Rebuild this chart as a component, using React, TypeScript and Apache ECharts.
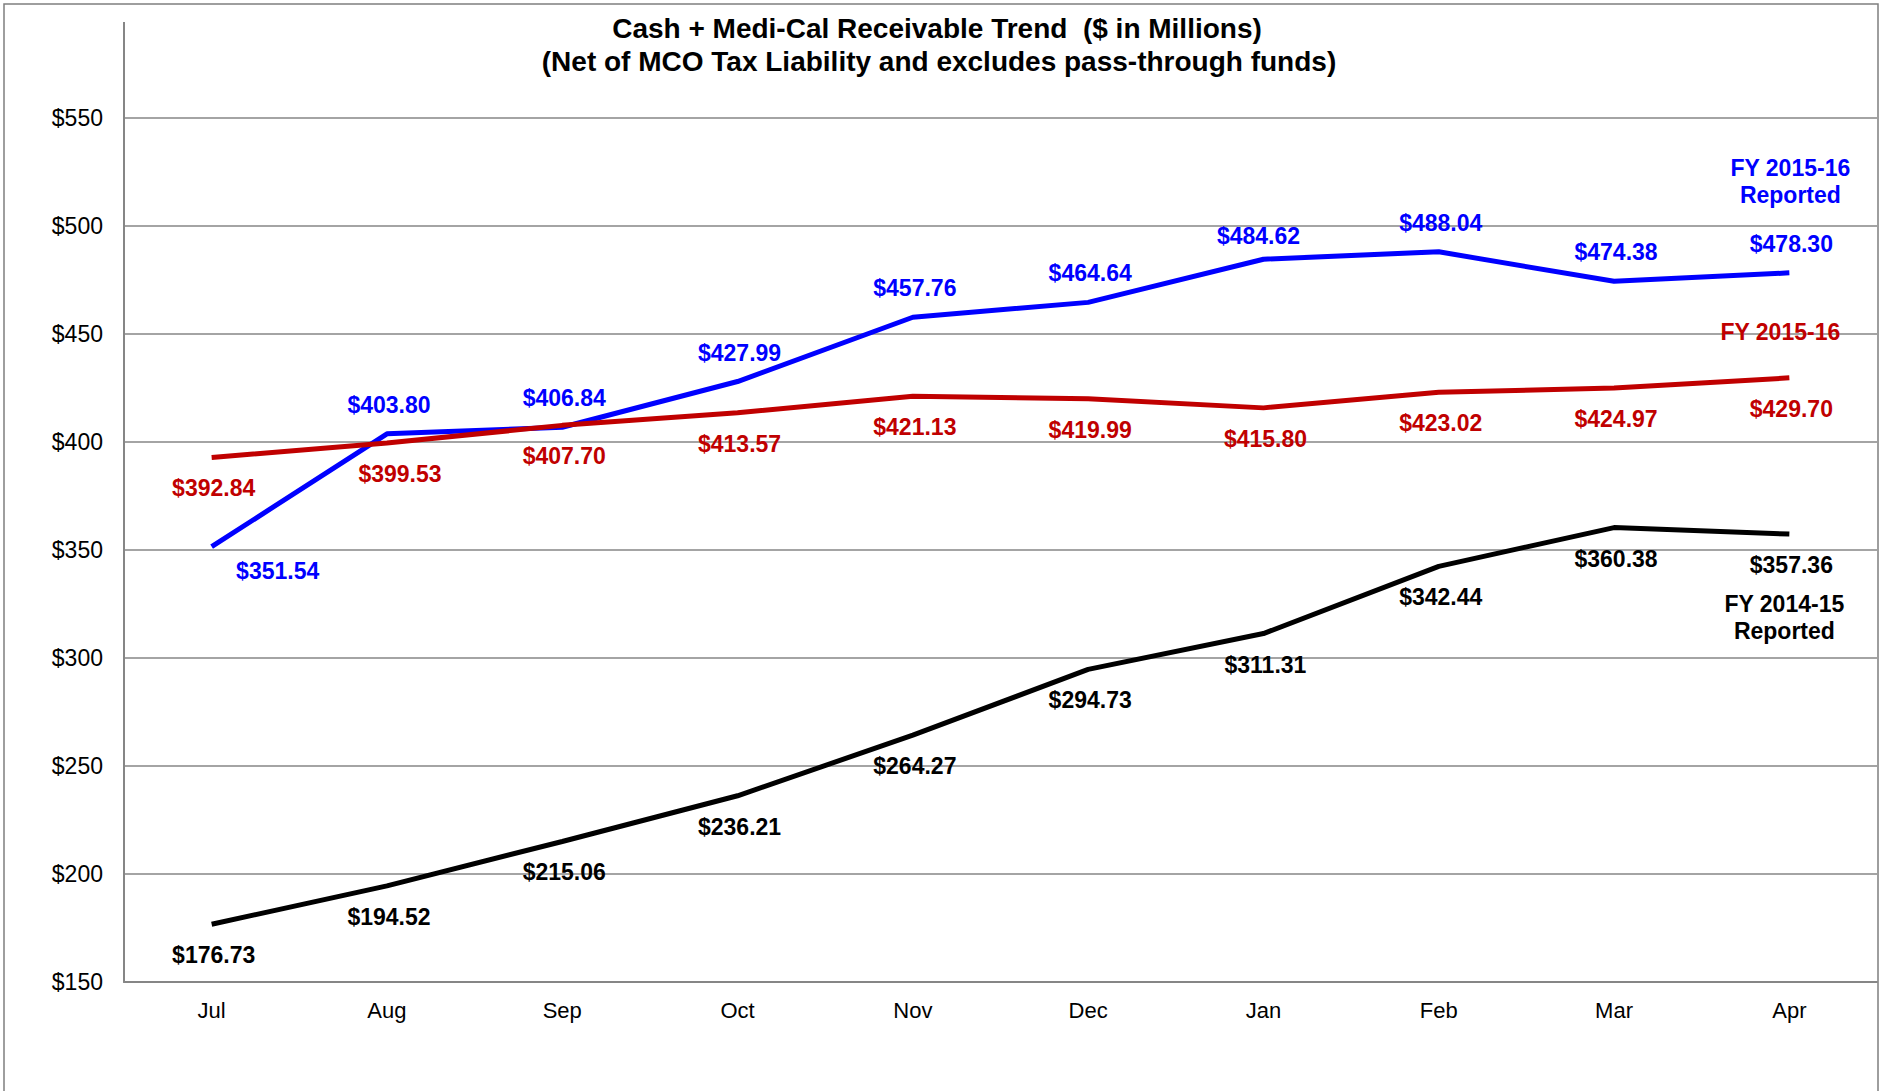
import React, { useEffect, useRef } from "react";
import * as echarts from "echarts";

const months = ["Jul", "Aug", "Sep", "Oct", "Nov", "Dec", "Jan", "Feb", "Mar", "Apr"];
const reported1516 = [351.54, 403.8, 406.84, 427.99, 457.76, 464.64, 484.62, 488.04, 474.38, 478.3];
const fy1516 = [392.84, 399.53, 407.7, 413.57, 421.13, 419.99, 415.8, 423.02, 424.97, 429.7];
const reported1415 = [176.73, 194.52, 215.06, 236.21, 264.27, 294.73, 311.31, 342.44, 360.38, 357.36];
const yMin = 150;
const yMax = 550;
const yStep = 50;

const titleLines = [
  "Cash + Medi-Cal Receivable Trend  ($ in Millions)",
  "(Net of MCO Tax Liability and excludes pass-through funds)",
];

const BLUE = "#0000FF";
const RED = "#C00000";
const BLACK = "#000000";
const GRID = "#868686";
const FONT = "'Liberation Sans', Arial, sans-serif";

const fmt = (v: number) => "$" + v.toFixed(2);

function withLabels(values: number[], special: Record<number, any>) {
  return values.map((v, i) => {
    const item: any = { value: v };
    if (special[i]) item.label = special[i];
    return item;
  });
}

export default function App() {
  const ref = useRef<HTMLDivElement>(null);
  useEffect(() => {
    if (!ref.current) return;
    const chart = echarts.init(ref.current, undefined, { renderer: "svg" });
    const labelBase = (color: string, pos: string, dist: number) => ({
      show: true,
      position: pos,
      distance: dist,
      offset: [2, 0],
      color,
      fontFamily: FONT,
      fontWeight: "bold",
      fontSize: 23,
      lineHeight: 24,
      formatter: (p: any) => fmt(p.value),
    });
    const mkSeries = (name: string, data: any[], color: string, pos: string, dist: number) => ({
      name,
      type: "line",
      data,
      symbol: "circle",
      symbolSize: 0,
      showSymbol: true,
      lineStyle: { color, width: 5 },
      itemStyle: { color },
      label: labelBase(color, pos, dist),
      z: 3,
    });
    chart.setOption({
      animation: false,
      backgroundColor: "#ffffff",
      grid: { left: 124, right: 8, top: 118, bottom: 109, containLabel: false },
      xAxis: {
        type: "category",
        data: months,
        boundaryGap: true,
        axisLine: { show: true, lineStyle: { color: GRID, width: 2 } },
        axisTick: { show: false },
        axisLabel: { color: "#000", fontFamily: FONT, fontSize: 22, margin: 17 },
      },
      yAxis: {
        type: "value",
        min: yMin,
        max: yMax,
        interval: yStep,
        axisLine: { show: true, lineStyle: { color: GRID, width: 2 } },
        axisTick: { show: false },
        splitLine: { show: true, lineStyle: { color: GRID, width: 1.5 } },
        axisLabel: {
          color: "#000",
          fontFamily: FONT,
          fontSize: 23,
          margin: 21,
          formatter: (v: number) => "$" + v,
        },
      },
      series: [
        mkSeries(
          "FY 2015-16 Reported",
          withLabels(reported1516, {
            0: { position: "bottom", distance: 12, offset: [66, 0] },
            6: { offset: [-5, 6] },
          }),
          BLUE,
          "top",
          17
        ),
        mkSeries("FY 2015-16", withLabels(fy1516, { 1: { offset: [13, 0] } }), RED, "bottom", 19),
        mkSeries("FY 2014-15 Reported", withLabels(reported1415, {}), BLACK, "bottom", 19),
      ],
    });

    const last = months.length - 1;
    const pBlue = chart.convertToPixel({ gridIndex: 0 }, [last, reported1516[last]]) as number[];
    const pRed = chart.convertToPixel({ gridIndex: 0 }, [last, fy1516[last]]) as number[];
    const pBlack = chart.convertToPixel({ gridIndex: 0 }, [last, reported1415[last]]) as number[];
    const topLeft = chart.convertToPixel({ gridIndex: 0 }, [0, yMax]) as number[];
    const axisX = topLeft[0] - (pBlue[0] - topLeft[0]) / (2 * last);

    const nameText = (x: number, y: number, text: string, color: string) => ({
      type: "text",
      x,
      y,
      z: 10,
      style: {
        text,
        fill: color,
        font: `bold 23px ${FONT}`,
        lineHeight: 27,
        align: "center",
        verticalAlign: "middle",
      },
    });

    chart.setOption({
      graphic: [
        {
          type: "rect",
          shape: { x: 4, y: 4, width: 1874, height: 1110 },
          style: { fill: "none", stroke: "#7f7f7f", lineWidth: 1.5 },
          silent: true,
        },
        {
          type: "line",
          shape: { x1: axisX, y1: 22, x2: axisX, y2: topLeft[1] },
          style: { stroke: GRID, lineWidth: 2 },
          silent: true,
        },
        {
          type: "text",
          x: 937,
          y: 28,
          style: {
            text: titleLines[0],
            fill: "#000",
            font: `bold 28px ${FONT}`,
            align: "center",
            verticalAlign: "middle",
          },
        },
        {
          type: "text",
          x: 939,
          y: 61,
          style: {
            text: titleLines[1],
            fill: "#000",
            font: `bold 28px ${FONT}`,
            align: "center",
            verticalAlign: "middle",
          },
        },
        nameText(pBlue[0] + 1, pBlue[1] - 91, "FY 2015-16\nReported", BLUE),
        nameText(pRed[0] - 9, pRed[1] - 46, "FY 2015-16", RED),
        nameText(pBlack[0] - 5, pBlack[1] + 83, "FY 2014-15\nReported", BLACK),
      ],
    });
    return () => chart.dispose();
  }, []);
  return (
    <div
      ref={ref}
      style={{ position: "fixed", left: 0, top: 0, width: 1885, height: 1091, background: "#fff" }}
    />
  );
}
